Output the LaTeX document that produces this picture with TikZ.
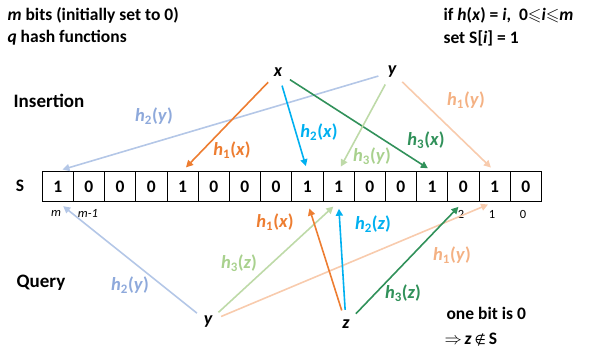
\documentclass[tikz,border=0pt]{standalone}
\usepackage{amssymb}
\usepackage{fontspec}
\setmainfont{Carlito}
\newfontfamily\symfont{DejaVu Sans}
\usetikzlibrary{arrows.meta}
\definecolor{hOr}{RGB}{237,125,49}
\definecolor{hCy}{RGB}{0,176,240}
\definecolor{hDg}{RGB}{49,145,90}
\definecolor{hLb}{RGB}{180,199,231}
\definecolor{hLbT}{RGB}{142,169,219}
\definecolor{hLg}{RGB}{190,218,168}
\definecolor{hLgT}{RGB}{169,209,142}
\definecolor{hPe}{RGB}{248,203,173}
\definecolor{hPeT}{RGB}{244,177,131}
\newcommand{\hf}[2]{\textit{h}\textsubscript{#1}(\textit{#2})}

\begin{document}
\begin{tikzpicture}[x=1pt,y=-1pt,>={Triangle[length=7pt,width=7pt]},
  every node/.style={font=\fontsize{17.5}{20}\selectfont\bfseries},
  bit/.style={draw,line width=0.8pt,minimum width=31.2pt,minimum height=30pt,inner sep=0pt,anchor=north west},
  elem/.style={circle,minimum size=28pt,inner sep=0pt,font=\fontsize{18}{20}\selectfont\bfseries\itshape},
  head/.style={font=\fontsize{19}{22}\selectfont\bfseries},
  lbl/.style={font=\fontsize{18.5}{20}\selectfont\bfseries},
  hash/.style={->,line width=1.6pt},
  idx/.style={font=\fontsize{12.5}{14}\selectfont}]
\useasboundingbox (0,0) rectangle (597,350);

% notes
\node[anchor=west] (nbits) at (4,15) {\textit{m} bits (initially set to 0)};
\node[anchor=west] (nhash) at (4,38) {\textit{q} hash functions};
\node[anchor=west] (nrule) at (440,15) {if \textit{h}(\textit{x}) = \textit{i}, \ 0$\leqslant$\textit{i}$\leqslant$\textit{m}};
\node[anchor=west] (nset) at (440,38) {set S[\textit{i}] = 1};
\node[head] (ins) at (49,101) {Insertion};
\node[head] (qry) at (41,283) {Query};

% bit array
\node (lS) at (20,186) {S};
\foreach \v [count=\k from 0] in {1,0,0,0,1,0,0,0,1,1,0,0,1,0,1,0}
  \node[bit] (c\k) at ({41.7+31.2*\k},171) {\v};
\node[idx,font=\fontsize{12.5}{14}\selectfont\itshape] (im) at (56,213) {m};
\node[idx,font=\fontsize{12.5}{14}\selectfont\itshape] (im1) at (88,213) {m-1};
\node[idx] (i2) at (461,214) {2};
\node[idx] (i1) at (492,214) {1};
\node[idx] (i0) at (523,214) {0};

% elements
\node[elem] (x) at (278,72) {x};
\node[elem] (y) at (392,72) {y};
\node[elem] (qy) at (208,322) {y};
\node[elem] (qz) at (346,324) {z};

% insertion
\draw[hash,hLb,shorten >=5pt] (y) -- (c0.north);
\draw[hash,hOr,shorten >=5pt] (x) -- (c4.north);
\draw[hash,hCy,shorten >=5pt] (x) -- (c8.north);
\draw[hash,hDg,shorten >=5pt] (x) -- (c12.north);
\draw[hash,hLg,shorten >=5pt] (y) -- (c9.north);
\draw[hash,hPe,shorten >=5pt] (y) -- (c14.north);
\node[lbl,text=hLbT] (t2y) at (154,116) {\hf{2}{y}};
\node[lbl,text=hOr] (t1x) at (232,150) {\hf{1}{x}};
\node[lbl,text=hCy] (t2x) at (319,132) {\hf{2}{x}};
\node[lbl,text=hDg] (t3x) at (426,140) {\hf{3}{x}};
\node[lbl,text=hLgT] (t3y) at (372,156) {\hf{3}{y}};
\node[lbl,text=hPeT] (t1y) at (466,100) {\hf{1}{y}};

% query
\draw[hash,hLb,shorten >=7pt] (qy) -- (c0.south);
\draw[hash,hLg,shorten >=7pt] (qy) -- (c9.south);
\draw[hash,hPe,shorten >=7pt] (qy) -- (c14.south);
\draw[hash,hOr,shorten >=7pt] (qz) -- (c8.south);
\draw[hash,hCy,shorten >=7pt] (qz) -- (c9.south);
\draw[hash,hDg,shorten >=7pt] (qz) -- (c13.south);
\node[lbl,text=hLbT] (q2y) at (130,285) {\hf{2}{y}};
\node[lbl,text=hLgT] (q3z) at (239,263) {\hf{3}{z}};
\node[lbl,text=hPeT] (q1y) at (452,255) {\hf{1}{y}};
\node[lbl,text=hOr] (q1x) at (275,222) {\hf{1}{x}};
\node[lbl,text=hCy] (q2z) at (373,224) {\hf{2}{z}};
\node[lbl,text=hDg] (q3z2) at (403,293) {\hf{3}{z}};

\node[anchor=west] (nzero) at (443,313) {one bit is 0};
\node[anchor=west] (nres) at (441,340) {$\Rightarrow$\,\textit{z}\,{\symfont\mdseries\fontsize{13}{15}\selectfont ∉}\,S};
\end{tikzpicture}
\end{document}
